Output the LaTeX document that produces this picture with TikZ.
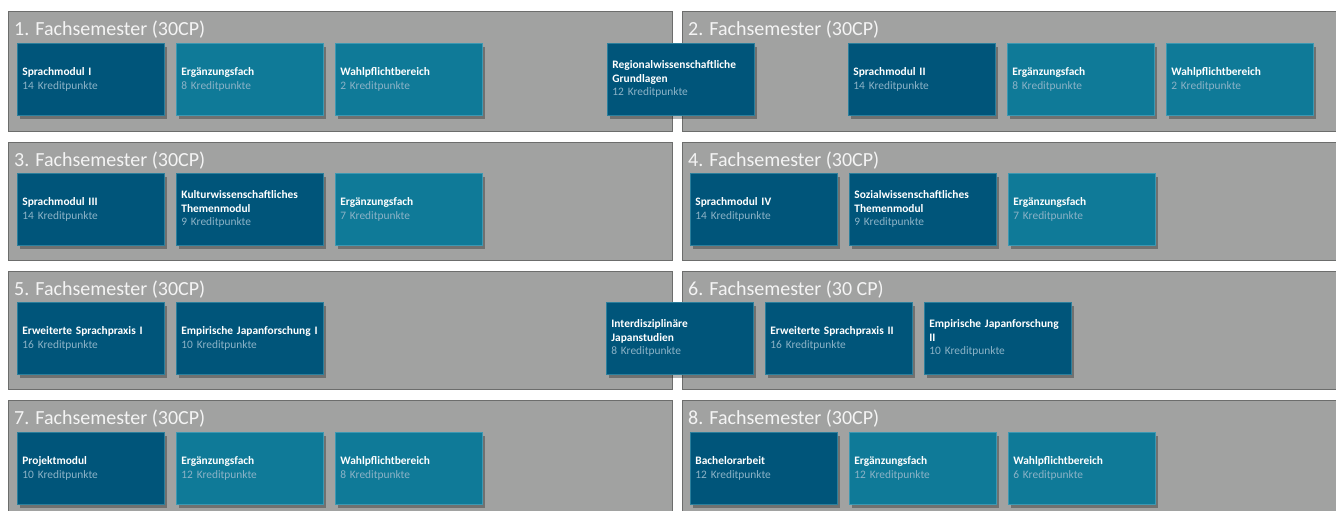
\documentclass[tikz,border=0pt]{standalone}
\usepackage{fontspec}
\setmainfont{Carlito}
\usetikzlibrary{shadows}
\definecolor{panelfill}{HTML}{A1A2A1}
\definecolor{panelline}{HTML}{6C6D6C}
\definecolor{dkbox}{HTML}{00557A}
\definecolor{ltbox}{HTML}{0F7A98}
\definecolor{dkedge}{HTML}{2C7F9C}
\definecolor{ltedge}{HTML}{3C98B2}
\definecolor{credit}{HTML}{8CB3C7}
\definecolor{titlecol}{HTML}{F4F4F4}
\tikzset{
  panel/.style={anchor=north west, inner sep=0pt, outer sep=0pt, fill=panelfill, draw=panelline, line width=1pt},
  semtitle/.style={anchor=base west, inner sep=0pt, text=titlecol, font=\fontsize{20}{22}\selectfont},
  modbox/.style={anchor=north west, minimum width=147pt, minimum height=72pt, text width=137pt,
    inner sep=5pt, align=left, font=\fontsize{11.4}{13.5}\selectfont, text=white, line width=0.8pt,
    drop shadow={shadow xshift=2.5pt, shadow yshift=-3.5pt, opacity=0.3, fill=black}},
  darkmod/.style={modbox, fill=dkbox, draw=dkedge},
  lightmod/.style={modbox, fill=ltbox, draw=ltedge},
}
\newcommand\mymod[5]{\node[#1] (#2) at (#3) {#4\\\textcolor{credit}{#5 Kreditpunkte}};}
\begin{document}
\begin{tikzpicture}[x=1pt,y=-1pt]
\useasboundingbox (0,0) rectangle (1336,511);
\clip (0,0) rectangle (1336,511);
\fill[white] (0,0) rectangle (1336,511);
% panels
\node[panel, minimum width=664pt, minimum height=119pt] (p1) at (8,12) {};
\node[panel, minimum width=664pt, minimum height=119pt] (p2) at (682,12) {};
\node[panel, minimum width=664pt, minimum height=118pt] (p3) at (8,142) {};
\node[panel, minimum width=664pt, minimum height=118pt] (p4) at (682,142) {};
\node[panel, minimum width=664pt, minimum height=118pt] (p5) at (8,271) {};
\node[panel, minimum width=664pt, minimum height=118pt] (p6) at (682,271) {};
\node[panel, minimum width=664pt, minimum height=130pt] (p7) at (8,400) {};
\node[panel, minimum width=664pt, minimum height=130pt] (p8) at (682,400) {};
% titles
\node[semtitle] (t1) at (14,36) {1. Fachsemester (30CP)};
\node[semtitle] (t2) at (688,36) {2. Fachsemester (30CP)};
\node[semtitle] (t3) at (14,166) {3. Fachsemester (30CP)};
\node[semtitle] (t4) at (688,166) {4. Fachsemester (30CP)};
\node[semtitle] (t5) at (14,295) {5. Fachsemester (30CP)};
\node[semtitle] (t6) at (688,295) {6. Fachsemester (30 CP)};
\node[semtitle] (t7) at (14,424) {7. Fachsemester (30CP)};
\node[semtitle] (t8) at (688,424) {8. Fachsemester (30CP)};
% row 1
\mymod{darkmod}{m11}{17,43}{\textbf{Sprachmodul I}}{14}
\mymod{lightmod}{m12}{176,43}{\textbf{Ergänzungsfach}}{8}
\mymod{lightmod}{m13}{335,43}{\textbf{Wahlpflichtbereich}}{2}
\mymod{darkmod}{m21}{607,43}{\textbf{Regionalwissenschaftliche}\\\textbf{Grundlagen}}{12}
\mymod{darkmod}{m22}{848,43}{\textbf{Sprachmodul II}}{14}
\mymod{lightmod}{m23}{1007,43}{\textbf{Ergänzungsfach}}{8}
\mymod{lightmod}{m24}{1166,43}{\textbf{Wahlpflichtbereich}}{2}
% row 2
\mymod{darkmod}{m31}{17,173}{\textbf{Sprachmodul III}}{14}
\mymod{darkmod}{m32}{176,173}{\textbf{Kulturwissenschaftliches}\\\textbf{Themenmodul}}{9}
\mymod{lightmod}{m33}{335,173}{\textbf{Ergänzungsfach}}{7}
\mymod{darkmod}{m41}{690,173}{\textbf{Sprachmodul IV}}{14}
\mymod{darkmod}{m42}{849,173}{\textbf{Sozialwissenschaftliches}\\\textbf{Themenmodul}}{9}
\mymod{lightmod}{m43}{1008,173}{\textbf{Ergänzungsfach}}{7}
% row 3
\mymod{darkmod}{m51}{17,302}{\textbf{Erweiterte Sprachpraxis I}}{16}
\mymod{darkmod}{m52}{176,302}{\textbf{Empirische Japanforschung I}}{10}
\mymod{darkmod}{m61}{606,302}{\textbf{Interdisziplinäre}\\\textbf{Japanstudien}}{8}
\mymod{darkmod}{m62}{765,302}{\textbf{Erweiterte Sprachpraxis II}}{16}
\mymod{darkmod}{m63}{924,302}{\textbf{Empirische Japanforschung}\\\textbf{II}}{10}
% row 4
\mymod{darkmod}{m71}{17,432}{\textbf{Projektmodul}}{10}
\mymod{lightmod}{m72}{176,432}{\textbf{Ergänzungsfach}}{12}
\mymod{lightmod}{m73}{335,432}{\textbf{Wahlpflichtbereich}}{8}
\mymod{darkmod}{m81}{690,432}{\textbf{Bachelorarbeit}}{12}
\mymod{lightmod}{m82}{849,432}{\textbf{Ergänzungsfach}}{12}
\mymod{lightmod}{m83}{1008,432}{\textbf{Wahlpflichtbereich}}{6}
\end{tikzpicture}
\end{document}
